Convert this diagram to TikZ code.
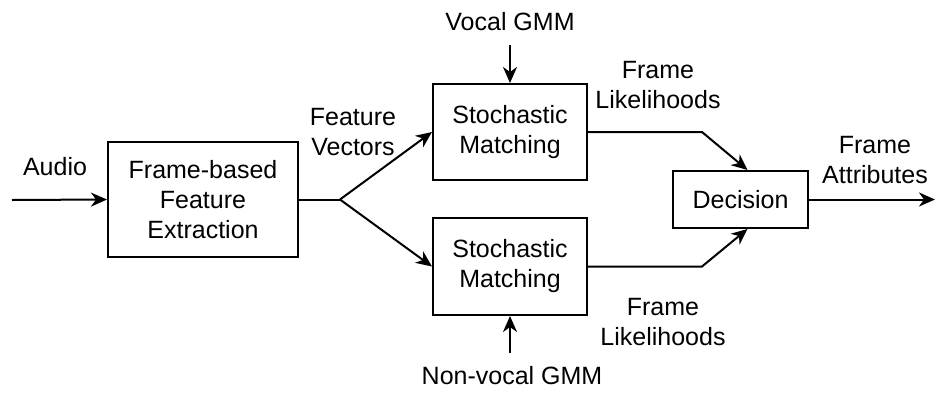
\documentclass[tikz,border=0pt]{standalone}
\usepackage{fontspec}
\setmainfont{Liberation Sans}
\usetikzlibrary{arrows.meta}
\begin{document}
\begin{tikzpicture}[x=1pt,y=-1pt,
  every node/.style={font=\fontsize{25}{30}\selectfont, inner sep=0pt},
  blk/.style={draw, line width=2pt, align=center},
  lbl/.style={align=center},
  conn/.style={line width=2pt, -{Stealth[length=16pt,width=14pt,inset=5pt]}},
  plain/.style={line width=2pt}]
\useasboundingbox (0,0) rectangle (935,392);
% blocks
\node[blk, minimum width=190pt, minimum height=115pt] (fe) at (203,199.5) {Frame-based\\Feature\\Extraction};
\node[blk, minimum width=154pt, minimum height=96pt] (sm1) at (510,132) {Stochastic\\Matching};
\node[blk, minimum width=154pt, minimum height=97pt] (sm2) at (510,266.5) {Stochastic\\Matching};
\node[blk, minimum width=135pt, minimum height=57pt] (dec) at (740.5,199.5) {Decision};
% labels
\node[lbl] (laudio) at (55,167) {Audio};
\node[lbl] (lfv) at (353,132) {Feature\\Vectors};
\node[lbl] (lvoc) at (510,22) {Vocal GMM};
\node[lbl] (lnv) at (512,376) {Non-vocal GMM};
\node[lbl] (lfl1) at (658,85) {Frame\\Likelihoods};
\node[lbl] (lfl2) at (663,322) {Frame\\Likelihoods};
\node[lbl] (lfa) at (875,160) {Frame\\Attributes};
% coordinates
\coordinate (in) at (12,200);
\coordinate (out) at (935,199.5);
\coordinate (br) at (340,199.5);
\coordinate (vtop) at (510,45);
\coordinate (nvbot) at (510,353);
\coordinate (e1) at (702,132);
\coordinate (e2) at (702,266.5);
% connectors
\draw[conn] (in) -- (fe.west);
\draw[plain] (fe.east) -- (br);
\draw[conn] (br) -- (sm1.west);
\draw[conn] (br) -- (sm2.west);
\draw[conn] (vtop) -- (sm1.north);
\draw[conn] (nvbot) -- (sm2.south);
\draw[conn] (sm1.east) -- (e1) -- ([xshift=7pt]dec.north);
\draw[conn] (sm2.east) -- (e2) -- ([xshift=7pt]dec.south);
\draw[conn] (dec.east) -- (out);
\end{tikzpicture}
\end{document}
